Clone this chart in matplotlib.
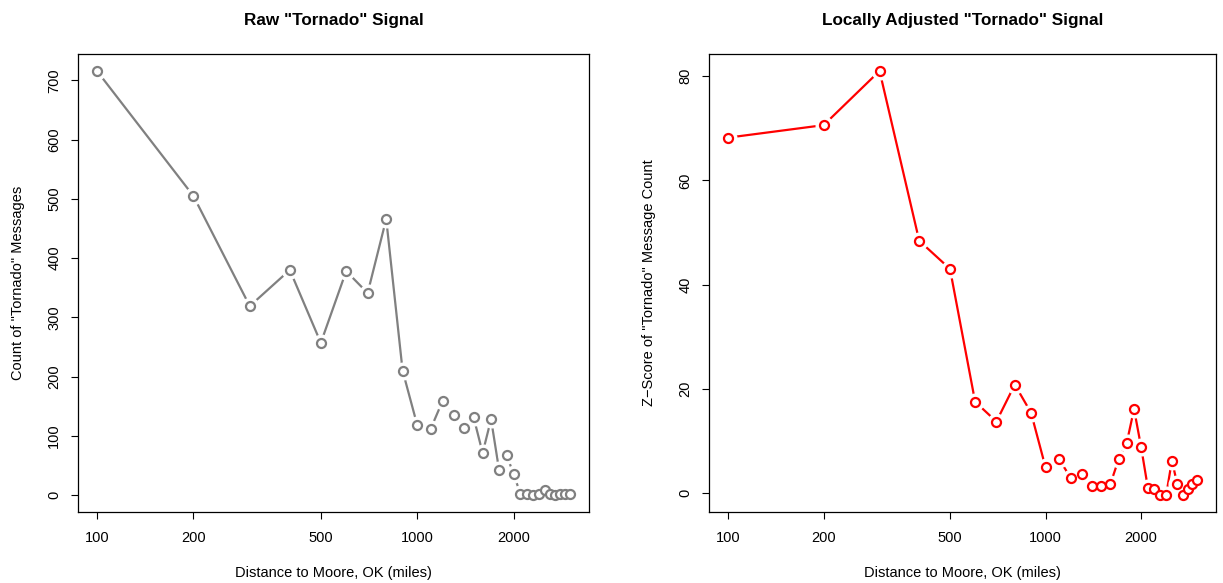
import numpy as np
import matplotlib
matplotlib.use("Agg")
import matplotlib.pyplot as plt

plt.rcParams['font.family'] = ['Liberation Sans', 'DejaVu Sans']

# distance bins (miles)
distance = list(range(100, 3001, 100))

# raw count of "Tornado" messages per distance bin
raw_count = [716, 505, 319, 380, 257, 378, 341, 466, 210, 118,
             111, 159, 135, 114, 131, 71, 128, 43, 68, 35,
             2, 1, 0, 1, 9, 1, 0, 1, 1, 1]

# locally adjusted z-scores
z_score = [68.2, 70.6, 81.0, 48.4, 43.0, 17.5, 13.7, 20.8, 15.4, 4.9,
           6.6, 2.9, 3.7, 1.4, 1.3, 1.7, 6.5, 9.5, 16.1, 8.8,
           1.0, 0.8, -0.4, -0.3, 6.2, 1.7, -0.3, 0.8, 1.8, 2.5]

xticks = [100, 200, 500, 1000, 2000]


def r_range(lo, hi, log=False):
    # R style 4% padding
    if log:
        lo, hi = np.log10(lo), np.log10(hi)
    d = (hi - lo) * 0.04
    lo, hi = lo - d, hi + d
    if log:
        return 10 ** lo, 10 ** hi
    return lo, hi


def r_panel(ax, x, y, color, yticks, title, ylabel):
    ax.plot(x, y, color=color, lw=1.6, zorder=1)
    ax.plot(x, y, 'o', ms=12, color='white', zorder=2)
    ax.plot(x, y, 'o', ms=6.5, mfc='white', mec=color, mew=1.6, zorder=3)
    ax.set_xscale('log')
    ax.set_xlim(*r_range(min(x), max(x), log=True))
    ax.set_ylim(*r_range(min(y), max(y)))
    ax.set_xticks(xticks)
    ax.set_xticklabels([str(t) for t in xticks])
    ax.xaxis.set_minor_locator(matplotlib.ticker.NullLocator())
    ax.set_yticks(yticks)
    ax.set_yticklabels([str(t) for t in yticks], rotation=90, va='center')
    ax.tick_params(length=5, width=0.8, labelsize=10.5, pad=9)
    ax.tick_params(axis='y', pad=7)
    for s in ax.spines.values():
        s.set_linewidth(0.9)
    ax.set_title(title, fontsize=12.3, fontweight='bold', pad=21)
    ax.set_xlabel('Distance to Moore, OK (miles)', fontsize=10.5, labelpad=15)
    ax.set_ylabel(ylabel, fontsize=10.5, labelpad=16)


fig = plt.figure(figsize=(12.23, 5.83), dpi=100)
ax1 = fig.add_axes([0.0638, 0.1218, 0.4178, 0.7856])
ax2 = fig.add_axes([0.5800, 0.1218, 0.4141, 0.7856])

r_panel(ax1, distance, raw_count, '#808080', list(range(0, 701, 100)),
        'Raw "Tornado" Signal', 'Count of "Tornado" Messages')
r_panel(ax2, distance, z_score, '#ff0000', list(range(0, 81, 20)),
        'Locally Adjusted "Tornado" Signal',
        'Z\u2212Score of "Tornado" Message Count')

fig.savefig('out.png', dpi=100)
